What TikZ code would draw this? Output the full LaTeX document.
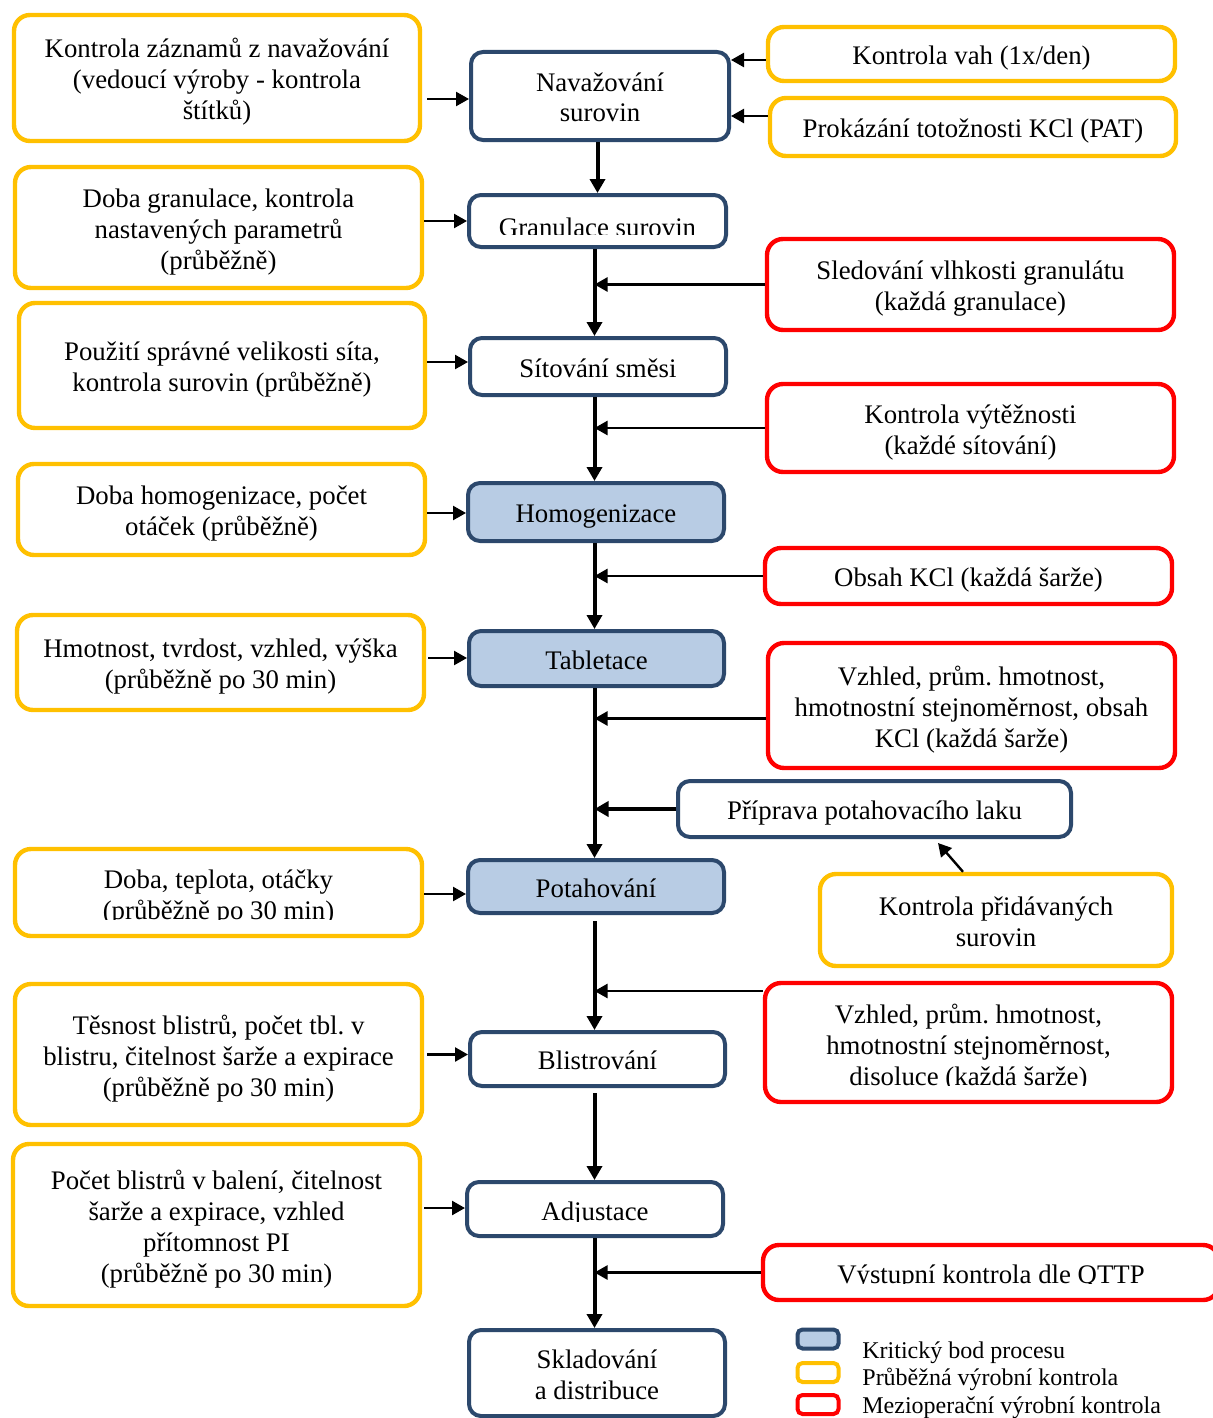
\documentclass[tikz,border=0pt]{standalone}
\usepackage{fontspec}
\setmainfont{Liberation Serif}
\usetikzlibrary{arrows.meta,calc}
\frenchspacing

\definecolor{ctrlyellow}{RGB}{255,192,0}
\definecolor{ctrlred}{RGB}{255,0,0}
\definecolor{stepblue}{RGB}{44,72,108}
\definecolor{critfill}{RGB}{184,204,228}

\begin{document}
\begin{tikzpicture}[x=0.5pt,y=-0.5pt,
  sz/.style 2 args={minimum width=#1, minimum height=#2},
  % fixed line struts so that every text block is centred the same way
  struts/.style={execute at begin node={\rule{0pt}{14pt}},
                 execute at end node={\rule[-3.5pt]{0pt}{3.5pt}}},
  ml/.style={text width=#1, align=flush center},
  ml/.default=195pt,
  box/.style={rectangle, rounded corners=8pt, line width=2.2pt, align=center,
              inner sep=0pt, font=\fontsize{13.4}{15.5}\selectfont\frenchspacing, struts},
  yellowbox/.style={box, draw=ctrlyellow, fill=white},
  redbox/.style={box, draw=ctrlred, fill=white},
  stepbox/.style={box, draw=stepblue, fill=white, line width=2pt, rounded corners=6pt},
  critbox/.style={stepbox, fill=critfill},
  label/.style={inner sep=0pt, align=center, font=\fontsize{13.4}{15.5}\selectfont\frenchspacing},
  legbox/.style={rectangle, rounded corners=2.5pt, line width=2pt, sz={20.5pt}{9.5pt}},
  legtext/.style={inner sep=0pt, anchor=base west, font=\fontsize{12}{13}\selectfont},
  flow/.style={line width=2pt, -{Triangle[length=7pt,width=7.5pt]}},
  feed/.style={line width=1.2pt, -{Triangle[length=6.5pt,width=7pt]}},
]
\useasboundingbox (0,0) rectangle (1213,1418);
\fill[white] (0,0) rectangle (1213,1418);
\clip (0,0) rectangle (1213,1418);

% x position of the main flow line
\coordinate (spine) at (594.5,0);

% ---------- process steps ----------
\node[stepbox, ml=120pt, sz={129pt}{44pt}] (nav) at (600,96) {Navažování\\surovin};
\node[stepbox, sz={128.5pt}{26pt}] (gran) at (597.5,221) {};
\begin{scope}
  \clip (467,193) rectangle (728,234);
  \node[label, anchor=base] at (597.5,236) {Granulace surovin};
\end{scope}
\node[stepbox, sz={128pt}{28.5pt}] (sit) at (598,366.5) {Sítování směsi};
\node[critbox, sz={128pt}{29pt}] (hom) at (596,512) {Homogenizace};
\node[critbox, sz={127.5pt}{27.5pt}] (tab) at (596.5,658.5) {Tabletace};
\node[critbox, sz={128pt}{26.5pt}] (pot) at (596,886.5) {Potahování};
\node[stepbox, sz={127.5pt}{27pt}] (bli) at (597.5,1059) {Blistrování};
\node[stepbox, sz={128pt}{27pt}] (adj) at (595,1209) {};
\begin{scope}
  \clip (465,1180) rectangle (725,1221);
  \node[label, anchor=base] at (595,1220) {Adjustace};
\end{scope}
\node[stepbox, ml=120pt, sz={128pt}{43pt}] (skl) at (597,1373) {Skladování\\a distribuce};

% ---------- in-process controls (left) ----------
\node[yellowbox, ml, sz={203pt}{63pt}] (l1) at (217,78)
  {Kontrola záznamů z navažování\\(vedoucí výroby - kontrola\\štítků)};
\node[yellowbox, ml, sz={203.5pt}{60.5pt}] (l2) at (218.5,227.5)
  {Doba granulace, kontrola\\nastavených parametrů\\(průběžně)};
\node[yellowbox, ml, sz={203pt}{62.5pt}] (l3) at (222,365.5)
  {Použití správné velikosti síta,\\kontrola surovin (průběžně)};
\node[yellowbox, ml, sz={203.5pt}{45.5pt}] (l4) at (221.5,509.5)
  {Doba homogenizace, počet\\otáček (průběžně)};
\node[yellowbox, ml, sz={203.5pt}{47.5pt}] (l5) at (220.5,662.5)
  {Hmotnost, tvrdost, vzhled, výška\\(průběžně po 30 min)};
\node[yellowbox, sz={203.5pt}{43.5pt}] (l6) at (218.5,892.5) {};
\begin{scope}
  \clip (13,847) rectangle (424,919);
  \node[label, struts, ml] at (218.5,893) {Doba, teplota, otáčky\\(průběžně po 30 min)};
\end{scope}
\node[yellowbox, ml, sz={203.5pt}{70.5pt}] (l7) at (218.5,1054.5)
  {Těsnost blistrů, počet tbl. v\\blistru, čitelnost šarže a expirace\\(průběžně po 30 min)};
\node[yellowbox, ml, sz={203.5pt}{81pt}] (l8) at (216.5,1225)
  {Počet blistrů v balení, čitelnost\\šarže a expirace, vzhled\\přítomnost PI\\(průběžně po 30 min)};

% ---------- controls (right) ----------
\node[yellowbox, sz={203.5pt}{27pt}] (vah) at (971.5,54) {Kontrola vah (1x/den)};
\node[yellowbox, sz={203pt}{29pt}] (pat) at (973,127) {Prokázání totožnosti KCl (PAT)};
\node[redbox, ml, sz={203.5pt}{45.5pt}] (sled) at (970.5,284.5)
  {Sledování vlhkosti granulátu\\(každá granulace)};
\node[redbox, ml, sz={203.5pt}{44pt}] (vyt) at (970.5,428)
  {Kontrola výtěžnosti\\(každé sítování)};
\node[redbox, sz={203.5pt}{28pt}] (kcl) at (968.5,576) {Obsah KCl (každá šarže)};
\node[redbox, ml, sz={203.5pt}{62.5pt}] (vzh) at (971.5,705.5)
  {Vzhled, prům. hmotnost,\\hmotnostní stejnoměrnost, obsah\\KCl (každá šarže)};
\node[stepbox, sz={196.5pt}{28pt}] (prip) at (874.5,809) {Příprava potahovacího laku};
\node[yellowbox, ml=170pt, sz={176pt}{46pt}] (kp) at (996,920)
  {Kontrola přidávaných\\surovin};
\node[redbox, sz={203.5pt}{59.5pt}] (dis) at (968.5,1042.5) {};
\begin{scope}
  \clip (763,981) rectangle (1174,1085);
  \node[label, struts, ml] at (968.5,1044)
    {Vzhled, prům. hmotnost,\\hmotnostní stejnoměrnost,\\disoluce (každá šarže)};
\end{scope}
\node[redbox, sz={228pt}{27.5pt}] (out) at (991,1272.5) {};
\begin{scope}
  \clip (761,1243) rectangle (1221,1283);
  \node[label, anchor=base] at (991,1283.5) {Výstupní kontrola dle QTTP};
\end{scope}

% ---------- main flow ----------
\draw[flow] (nav.south -| gran.north) -- (gran.north);
\draw[flow] (gran.south -| spine) -- (sit.north -| spine);
\draw[flow] (sit.south -| spine) -- (hom.north -| spine);
\draw[flow] (hom.south -| spine) -- (tab.north -| spine);
\draw[flow] (tab.south -| spine) -- (pot.north -| spine);
\draw[flow, shorten <=3pt] (pot.south -| spine) -- (bli.north -| spine);
\draw[flow, shorten <=2.5pt] (bli.south -| spine) -- (adj.north -| spine);
\draw[flow] (adj.south -| spine) -- (skl.north -| spine);

% ---------- controls feeding the steps ----------
\path ([yshift=-3pt]vah.west) coordinate (fvah);
\draw[feed] (fvah) -- (fvah -| nav.east);
\path ([yshift=5.5pt]pat.west) coordinate (fpat);
\draw[feed] (fpat) -- (fpat -| nav.east);

\draw[feed] (sled.west) -- (sled.west -| spine);
\draw[feed] (vyt.west) -- (vyt.west -| spine);
\draw[feed] (kcl.west) -- (kcl.west -| spine);
\path ([yshift=-6.5pt]vzh.west) coordinate (fvzh);
\draw[feed] (fvzh) -- (fvzh -| spine);
\draw[flow] (prip.west) -- (prip.west -| spine);
\draw[feed] ([xshift=-16.5pt]kp.north) -- ([xshift=31.75pt,yshift=-2pt]prip.south);
\path ([yshift=25.75pt]dis.west) coordinate (fdis);
\draw[feed] (fdis) -- (fdis -| spine);
\draw[feed] (out.west) -- (out.west -| spine);

\path ([yshift=-10.5pt]l1.east) coordinate (f1);
\draw[feed, shorten <=2.5pt] (f1) -- (f1 -| nav.west);
\path ([yshift=3.25pt]l2.east) coordinate (f2);
\draw[feed] (f2) -- (f2 -| gran.west);
\path ([yshift=1.75pt]l3.east) coordinate (f3);
\draw[feed] (f3) -- (f3 -| sit.west);
\path ([yshift=-1.75pt]l4.east) coordinate (f4);
\draw[feed] (f4) -- (f4 -| hom.west);
\path ([yshift=2.25pt]l5.east) coordinate (f5);
\draw[feed, shorten <=1pt] (f5) -- (f5 -| tab.west);
\path ([yshift=-0.75pt]l6.east) coordinate (f6);
\draw[feed] (f6) -- (f6 -| pot.west);
\draw[feed, shorten <=1.5pt] (l7.east) -- (l7.east -| bli.west);
\path ([yshift=8.5pt]l8.east) coordinate (f8);
\draw[feed, shorten <=1pt] (f8) -- (f8 -| adj.west);

% ---------- legend ----------
\node[legbox, draw=stepblue, fill=critfill] (kb) at (818,1339) {};
\node[legbox, draw=ctrlyellow, fill=white] (ky) at (818,1372.5) {};
\node[legbox, draw=ctrlred, fill=white] (kr) at (818,1404.5) {};
\node[legtext] (t1) at (862,1358) {Kritický bod procesu};
\node[legtext] (t2) at (862,1385) {Průběžná výrobní kontrola};
\node[legtext] (t3) at (862,1413) {Mezioperační výrobní kontrola};
\end{tikzpicture}
\end{document}
